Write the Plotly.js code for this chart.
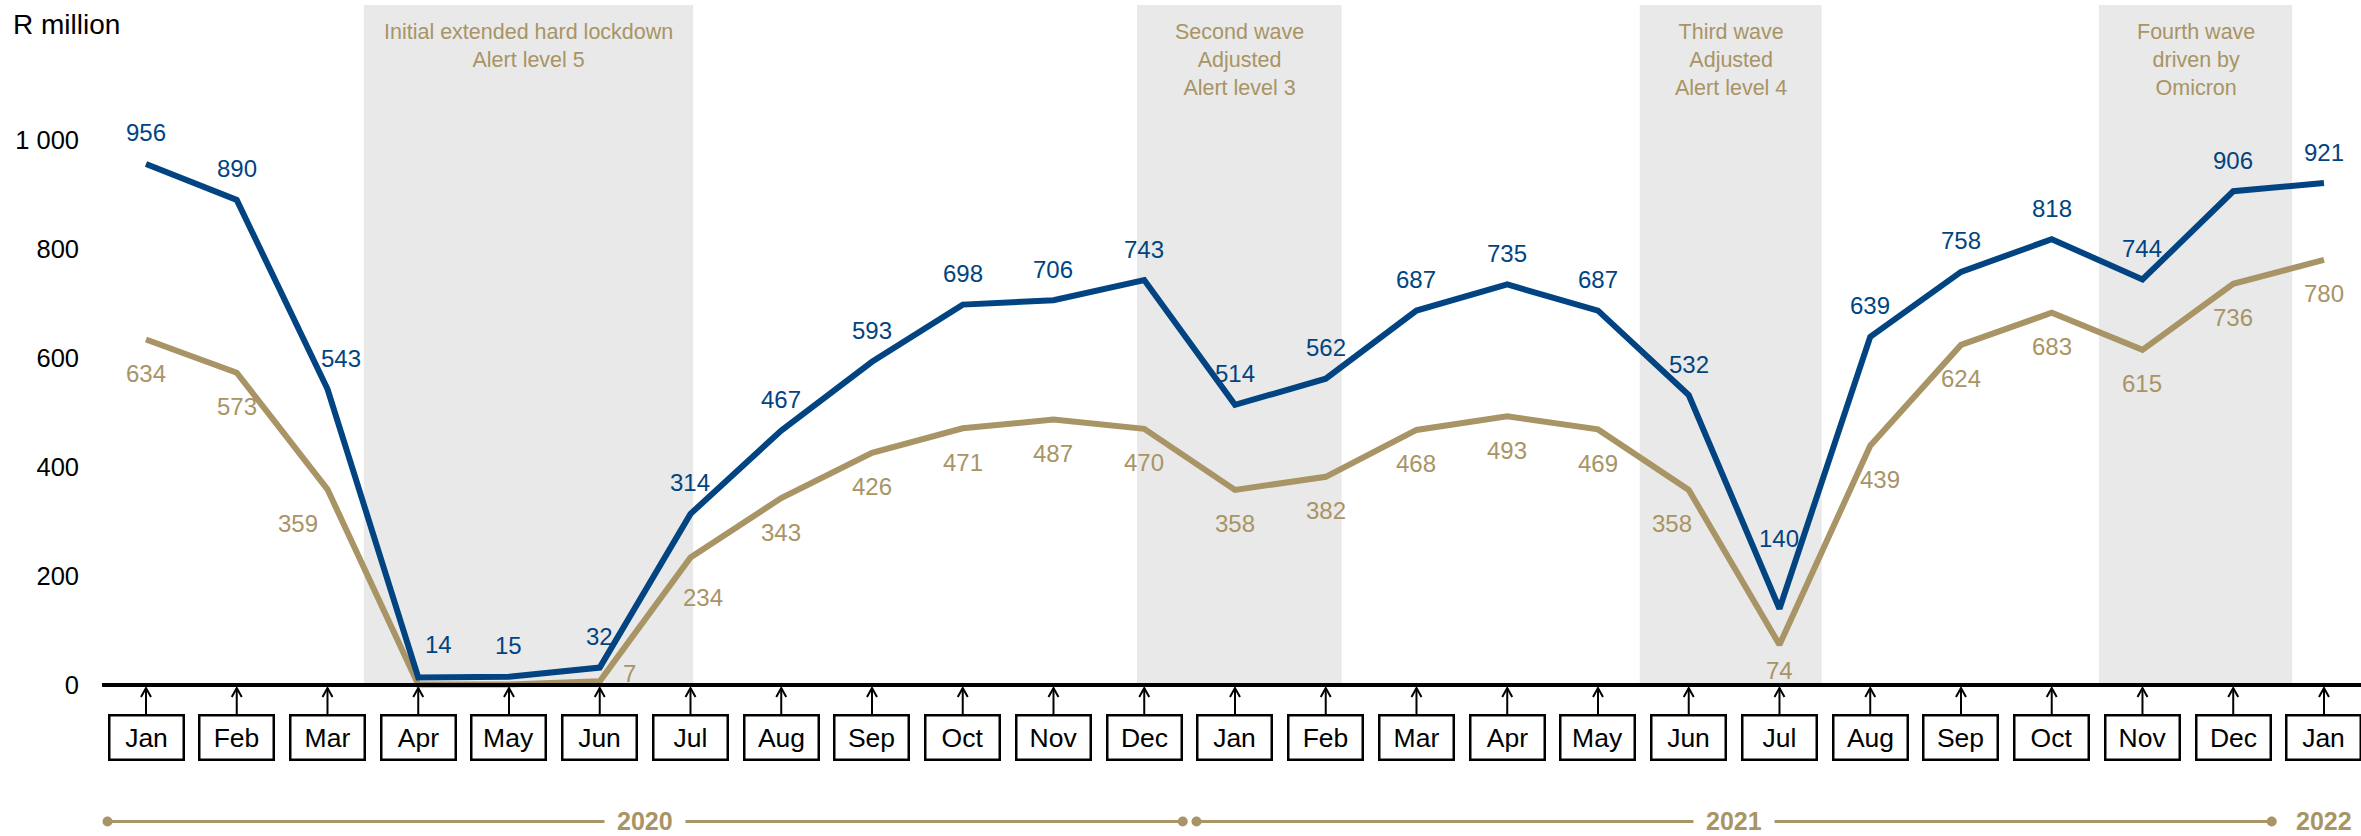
<!DOCTYPE html>
<html><head><meta charset="utf-8">
<script src="https://cdn.plot.ly/plotly-3.0.1.min.js"></script>
<style>html,body{margin:0;padding:0;background:#fff}#chart{width:2361px;height:836px}</style>
</head><body><div id="chart"></div>
<script>
// ---------- data ----------
const months = ['Jan','Feb','Mar','Apr','May','Jun','Jul','Aug','Sep','Oct','Nov','Dec',
                'Jan','Feb','Mar','Apr','May','Jun','Jul','Aug','Sep','Oct','Nov','Dec','Jan'];
const seriesBlue = [956,890,543,14,15,32,314,467,593,698,706,743,514,562,687,735,687,532,140,639,758,818,744,906,921];
const seriesGold = [634,573,359,1,1,7,234,343,426,471,487,470,358,382,468,493,469,358,74,439,624,683,615,736,780];
const goldHiddenLabels = [3,4];
const years = ['2020','2021','2022'];
const yearStart = [0,12,24];
const yearEnd = [11,23,24];
const periodLabels = ['Initial extended hard lockdown<br>Alert level 5',
                      'Second wave<br>Adjusted<br>Alert level 3',
                      'Third wave<br>Adjusted<br>Alert level 4',
                      'Fourth wave<br>driven by<br>Omicron'];
const periodStart = [2.40,10.92,16.46,21.52];
const periodEnd = [6.03,13.175,18.465,23.65];
const yTickVals = [0,200,400,600,800,1000];
const yTickText = ['0','200','400','600','800','1 000'];
const yUnit = 'R million';

// ---------- style / positioning ----------
const BLUE = '#014481', GOLD = '#A89465', SHADE = '#E9E9E9';
const FONT = 'Arial, "Liberation Sans", sans-serif';
const W = 2361, H = 836, ML = 102, MR = 0, MT = 5, MB = 136;
const PW = W - ML - MR, PH = H - MT - MB;
const xRange = [-0.4848, 24.408];
const yRange = [-27.5, 1247.7];
const xPx = i => ML + (i - xRange[0]) / (xRange[1] - xRange[0]) * PW;
const xPaper = px => (px - ML) / PW;
const yPaper = py => (H - MB - py) / PH;
const AXIS_Y = 685, BOX_TOP = 714, BOX_BOT = 761, BOX_HALF = 38.5, TL_Y = 821.5;

// label offsets (screen pixels, dx right, dy down)
const blueOff = {2:[14,-31], 3:[20,-33], 18:[0,-70]};
const goldOff = {2:[-29,34], 5:[30,-8], 6:[13,40], 17:[-17,34], 18:[0,26], 19:[10,34]};

const xIdx = months.map((m,i)=>i);

const traces = [
  {x:xIdx, y:seriesGold, type:'scatter', mode:'lines', line:{color:GOLD, width:6}, hoverinfo:'skip'},
  {x:xIdx, y:seriesBlue, type:'scatter', mode:'lines', line:{color:BLUE, width:6}, hoverinfo:'skip'}
];

const shapes = [];
const annotations = [];

// shaded periods
periodLabels.forEach((t,k)=>{
  shapes.push({type:'rect', xref:'x', yref:'y', x0:periodStart[k], x1:periodEnd[k], y0:0, y1:yRange[1],
               fillcolor:SHADE, line:{width:0}, layer:'below'});
  annotations.push({xref:'x', yref:'paper', x:(periodStart[k]+periodEnd[k])/2, y:yPaper(18),
               xanchor:'center', yanchor:'top', showarrow:false, text:t, align:'center',
               font:{family:FONT, size:21.5, color:GOLD}});
});

// zero axis line
shapes.push({type:'line', xref:'paper', yref:'paper', x0:0, x1:1, y0:yPaper(AXIS_Y), y1:yPaper(AXIS_Y),
             line:{color:'#000', width:4}, layer:'above'});

// month boxes and arrows
months.forEach((m,i)=>{
  const px = xPx(i);
  shapes.push({type:'line', xref:'paper', yref:'paper', x0:xPaper(px), x1:xPaper(px),
               y0:yPaper(BOX_TOP), y1:yPaper(AXIS_Y+3), line:{color:'#000', width:2}});
  shapes.push({type:'path', xref:'paper', yref:'paper',
               path:`M${xPaper(px-5)},${yPaper(AXIS_Y+12)} L${xPaper(px)},${yPaper(AXIS_Y+3)} L${xPaper(px+5)},${yPaper(AXIS_Y+12)}`,
               line:{color:'#000', width:2}});
  annotations.push({xref:'x', yref:'y', x:i, y:0, yshift:-((BOX_TOP+BOX_BOT)/2 - AXIS_Y),
               xanchor:'center', yanchor:'middle', showarrow:false, text:m,
               width:72, height:42, borderwidth:2.5, borderpad:0, bordercolor:'#000', bgcolor:'#fff',
               font:{family:FONT, size:26.5, color:'#000'}});
});

// year timeline
years.forEach((yr,k)=>{
  const a = xPx(yearStart[k]) - BOX_HALF, b = xPx(yearEnd[k]) + BOX_HALF;
  if (yearEnd[k] > yearStart[k]) {
    shapes.push({type:'line', xref:'paper', yref:'paper', x0:xPaper(a), x1:xPaper(b),
                 y0:yPaper(TL_Y), y1:yPaper(TL_Y), line:{color:GOLD, width:3}});
    [a,b].forEach(p=>{
      shapes.push({type:'circle', xref:'paper', yref:'paper', x0:xPaper(p-5), x1:xPaper(p+5),
                   y0:yPaper(TL_Y+5), y1:yPaper(TL_Y-5), fillcolor:GOLD, line:{width:0}});
    });
  }
  annotations.push({xref:'x', yref:'paper', x:(yearStart[k]+yearEnd[k])/2, y:yPaper(TL_Y),
               xanchor:'center', yanchor:'middle', showarrow:false, text:'<b>'+yr+'</b>',
               bgcolor:yearEnd[k] > yearStart[k] ? '#fff' : 'rgba(0,0,0,0)', borderpad:12,
               font:{family:FONT, size:25, color:GOLD}});
});

// data labels
seriesBlue.forEach((v,i)=>{
  const o = blueOff[i] || [0,-31];
  annotations.push({xref:'x', yref:'y', x:i, y:v, xshift:o[0], yshift:-o[1], showarrow:false,
               xanchor:'center', yanchor:'middle', text:String(v), font:{family:FONT, size:24, color:BLUE}});
});
seriesGold.forEach((v,i)=>{
  if (goldHiddenLabels.includes(i)) return;
  const o = goldOff[i] || [0,34];
  annotations.push({xref:'x', yref:'y', x:i, y:v, xshift:o[0], yshift:-o[1], showarrow:false,
               xanchor:'center', yanchor:'middle', text:String(v), font:{family:FONT, size:24, color:GOLD}});
});

// unit label
annotations.push({xref:'paper', yref:'paper', x:xPaper(11), y:yPaper(24), xanchor:'left', yanchor:'middle',
             showarrow:false, text:yUnit, font:{family:FONT, size:28, color:'#000'}});

const layout = {
  width:W, height:H, margin:{l:ML, r:MR, t:MT, b:MB, pad:0},
  paper_bgcolor:'#fff', plot_bgcolor:'#fff', showlegend:false,
  font:{family:FONT},
  xaxis:{range:xRange, showgrid:false, zeroline:false, showline:false, showticklabels:false, ticks:'', fixedrange:true},
  yaxis:{range:yRange, showgrid:false, zeroline:false, showline:false, ticks:'',
         tickvals:yTickVals, ticktext:yTickText, ticklabelstandoff:22,
         tickfont:{family:FONT, size:25.5, color:'#000'}, fixedrange:true},
  shapes:shapes, annotations:annotations
};
Plotly.newPlot('chart', traces, layout, {displayModeBar:false, staticPlot:true});
</script>
</body></html>
